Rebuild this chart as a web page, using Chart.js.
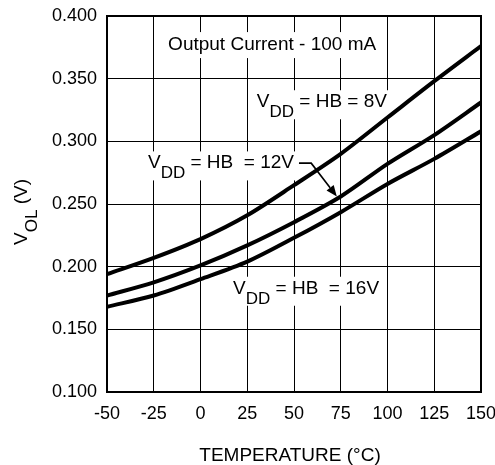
<!DOCTYPE html>
<html>
<head>
<meta charset="utf-8">
<script src="https://cdn.jsdelivr.net/npm/chart.js@4.4.1/dist/chart.umd.min.js"></script>
<style>
  body { margin: 0; background: #fff; }
  canvas { display: block; }
</style>
</head>
<body>
<canvas id="volChart" width="495" height="465"></canvas>
<script>
// temperature points (°C) and V_OL readings (V)
const temps = [-50, -25, 0, 25, 50, 75, 100, 125, 150];
const vol8V = [0.194, 0.207, 0.222, 0.241, 0.265, 0.290, 0.319, 0.348, 0.376];
const vol12V = [0.177, 0.1875, 0.201, 0.217, 0.2355, 0.256, 0.282, 0.305, 0.331];
const vol16V = [0.168, 0.177, 0.190, 0.204, 0.223, 0.2435, 0.266, 0.286, 0.308];

const FONT = '"Liberation Sans", Arial, sans-serif';

function toPoints(ys) {
    return temps.map(function (t, i) { return { x: t, y: ys[i] }; });
}

function curve(label, ys) {
    return {
        label: label,
        data: toPoints(ys),
        showLine: true,
        borderColor: '#000',
        borderWidth: 4,
        pointRadius: 0,
        tension: 0.3,
        fill: false
    };
}

// text like "V" + subscript "DD" + rest, returns total width
function subText(ctx, x, y, main, sub, rest, size, dry) {
    ctx.textBaseline = 'alphabetic';
    ctx.textAlign = 'left';
    ctx.font = size + 'px ' + FONT;
    const w1 = ctx.measureText(main).width;
    ctx.font = (size - 2) + 'px ' + FONT;
    const w2 = ctx.measureText(sub).width;
    ctx.font = size + 'px ' + FONT;
    const w3 = ctx.measureText(rest).width;
    if (!dry) {
        ctx.fillStyle = '#000';
        ctx.fillText(main, x, y);
        ctx.font = (size - 2) + 'px ' + FONT;
        ctx.fillText(sub, x + w1, y + 10);
        ctx.font = size + 'px ' + FONT;
        ctx.fillText(rest, x + w1 + w2, y);
    }
    return w1 + w2 + w3;
}

function boxedLabel(ctx, x, y, main, sub, rest) {
    const w = subText(ctx, x, y, main, sub, rest, 19, true);
    ctx.fillStyle = '#fff';
    ctx.fillRect(x - 4, y - 17, w + 8, 29);
    subText(ctx, x, y, main, sub, rest, 19, false);
    return w;
}

const decor = {
    id: 'decor',
    beforeDatasetsDraw(chart) {
        const ctx = chart.ctx;
        const xs = chart.scales.x, ys = chart.scales.y;
        ctx.save();
        // heading inside the plot
        ctx.font = '19px ' + FONT;
        const head = 'Output Current - 100 mA';
        const hw = ctx.measureText(head).width;
        const hx = xs.getPixelForValue(38.3), hy = ys.getPixelForValue(0.3768);
        ctx.fillStyle = '#fff';
        ctx.fillRect(hx - hw / 2 - 4, hy - 13, hw + 8, 26);
        ctx.fillStyle = '#000';
        ctx.textAlign = 'center';
        ctx.textBaseline = 'middle';
        ctx.fillText(head, hx, hy);

        boxedLabel(ctx, xs.getPixelForValue(30.1), ys.getPixelForValue(0.3272), 'V', 'DD', ' = HB = 8V');
        const w12 = boxedLabel(ctx, xs.getPixelForValue(-28.1), ys.getPixelForValue(0.2784), 'V', 'DD', ' = HB  = 12V');
        chart.$lead12 = xs.getPixelForValue(-28.1) + w12;
        boxedLabel(ctx, xs.getPixelForValue(17.4), ys.getPixelForValue(0.1784), 'V', 'DD', ' = HB  = 16V');
        ctx.restore();
    },
    afterDatasetsDraw(chart) {
        const ctx = chart.ctx;
        const xs = chart.scales.x, ys = chart.scales.y;
        const a = chart.chartArea;
        ctx.save();
        // leader arrow for the 12V label
        const y0 = ys.getPixelForValue(0.2826);
        const x0 = chart.$lead12 + 5;
        const x1 = xs.getPixelForValue(59.2);
        const tx = xs.getPixelForValue(72.9), ty = ys.getPixelForValue(0.256);
        ctx.strokeStyle = '#000';
        ctx.lineWidth = 1.6;
        ctx.beginPath();
        ctx.moveTo(x0, y0);
        ctx.lineTo(x1, y0);
        const ang = Math.atan2(ty - y0, tx - x1);
        const hl = 11, hw = 4.5;
        const bx = tx - hl * Math.cos(ang), by = ty - hl * Math.sin(ang);
        ctx.lineTo(bx, by);
        ctx.stroke();
        ctx.fillStyle = '#000';
        ctx.beginPath();
        ctx.moveTo(tx, ty);
        ctx.lineTo(bx + hw * Math.sin(ang), by - hw * Math.cos(ang));
        ctx.lineTo(bx - hw * Math.sin(ang), by + hw * Math.cos(ang));
        ctx.closePath();
        ctx.fill();
        // plot frame
        ctx.lineWidth = 2;
        ctx.strokeRect(a.left, a.top, a.right - a.left, a.bottom - a.top);
        ctx.restore();
    },
    afterDraw(chart) {
        const ctx = chart.ctx;
        const a = chart.chartArea;
        ctx.save();
        ctx.fillStyle = '#000';
        ctx.font = '19px ' + FONT;
        ctx.textAlign = 'center';
        ctx.textBaseline = 'alphabetic';
        ctx.fillText('TEMPERATURE (°C)', (a.left + a.right) / 2 - 4, 461);
        // rotated y title with subscript
        ctx.translate(27, (a.top + a.bottom) / 2 + 8);
        ctx.rotate(-Math.PI / 2);
        const total = subText(ctx, 0, 0, 'V', 'OL', ' (V)', 19, true);
        subText(ctx, -total / 2, 0, 'V', 'OL', ' (V)', 19, false);
        ctx.restore();
    }
};

const ctx = document.getElementById('volChart').getContext('2d');
const volChart = new Chart(ctx, {
    type: 'scatter',
    data: {
        datasets: [
            curve('VDD = HB = 8V', vol8V),
            curve('VDD = HB = 12V', vol12V),
            curve('VDD = HB = 16V', vol16V)
        ]
    },
    options: {
        responsive: false,
        animation: false,
        layout: { padding: { top: 16, right: 14, left: 0, bottom: 0 } },
        plugins: {
            legend: { display: false },
            tooltip: { enabled: false }
        },
        scales: {
            x: {
                type: 'linear',
                min: -50,
                max: 150,
                afterFit: function (s) {
                    s.height = 73;
                    s.paddingLeft = 0;
                    s.paddingRight = 0;
                },
                ticks: {
                    stepSize: 25,
                    color: '#000',
                    padding: 11,
                    font: { family: FONT, size: 18 }
                },
                grid: { color: '#000', lineWidth: 1, drawTicks: false },
                border: { display: false }
            },
            y: {
                min: 0.1,
                max: 0.4,
                afterFit: function (s) {
                    s.width = 107;
                    s.paddingTop = 0;
                    s.paddingBottom = 0;
                },
                ticks: {
                    stepSize: 0.05,
                    color: '#000',
                    padding: 10,
                    font: { family: FONT, size: 18 },
                    callback: function (v) { return v.toFixed(3); }
                },
                grid: { color: '#000', lineWidth: 1, drawTicks: false },
                border: { display: false }
            }
        }
    },
    plugins: [decor]
});
</script>
</body>
</html>
